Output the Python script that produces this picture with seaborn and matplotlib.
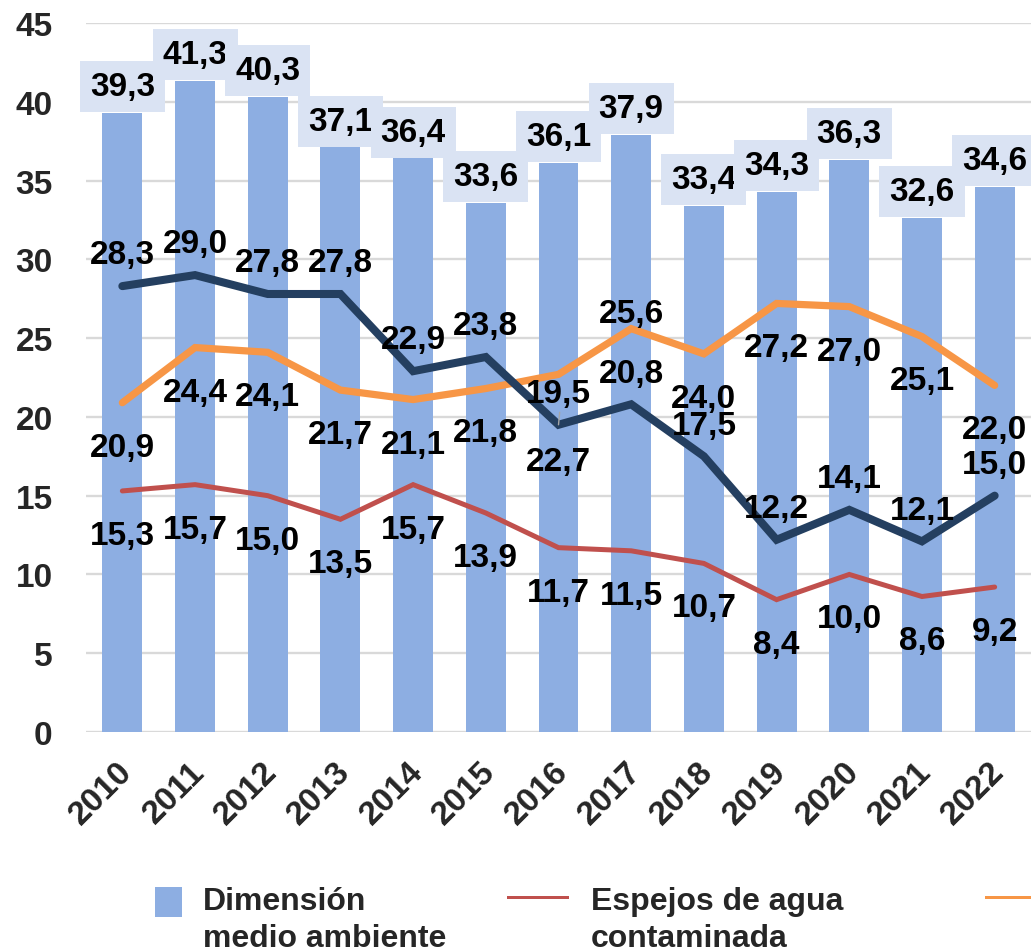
import numpy as np
import pandas as pd
import matplotlib
matplotlib.use("Agg")
import matplotlib.pyplot as plt
from matplotlib.transforms import ScaledTranslation
from matplotlib.patches import Patch, Rectangle
from matplotlib.legend_handler import HandlerPatch
import seaborn as sns

# ---- data ----
years = ["2010", "2011", "2012", "2013", "2014", "2015", "2016",
         "2017", "2018", "2019", "2020", "2021", "2022"]
medio_ambiente = [39.3, 41.3, 40.3, 37.1, 36.4, 33.6, 36.1, 37.9, 33.4, 34.3, 36.3, 32.6, 34.6]
serie_azul = [28.3, 29.0, 27.8, 27.8, 22.9, 23.8, 19.5, 20.8, 17.5, 12.2, 14.1, 12.1, 15.0]
serie_naranja = [20.9, 24.4, 24.1, 21.7, 21.1, 21.8, 22.7, 25.6, 24.0, 27.2, 27.0, 25.1, 22.0]
espejos_agua = [15.3, 15.7, 15.0, 13.5, 15.7, 13.9, 11.7, 11.5, 10.7, 8.4, 10.0, 8.6, 9.2]
y_ticks = [0, 5, 10, 15, 20, 25, 30, 35, 40, 45]
legend_labels = ["Dimensión\nmedio ambiente", "Espejos de agua\ncontaminada", " \n "]

# ---- style ----
BAR = "#8DAEE2"
BOXC = "#DAE3F3"
NAVY = "#243F60"
ORANGE = "#F79646"
RED = "#C0504D"
GRID = "#D9D9D9"
FS = 24
LFS = 23

sns.set_theme(style="white")
plt.rcParams["font.family"] = ["Liberation Sans", "DejaVu Sans"]
plt.rcParams["font.weight"] = "bold"

fig = plt.figure(figsize=(10.31, 9.53), dpi=100)
ax = fig.add_axes([86 / 1031, 1 - 733 / 953, 945 / 1031, 709 / 953])

df = pd.DataFrame({"year": years, "value": medio_ambiente})
sns.barplot(data=df, x="year", y="value", ax=ax, color=BAR, saturation=1,
            width=0.55, linewidth=0, zorder=2)

xs = np.arange(len(years))
for vals, col, lw in [(espejos_agua, RED, 3.6), (serie_naranja, ORANGE, 5.2), (serie_azul, NAVY, 5.8)]:
    sns.lineplot(x=xs, y=vals, ax=ax, color=col, linewidth=lw, sort=False,
                 solid_capstyle="round", solid_joinstyle="miter", zorder=3)

ax.set_xlim(-0.5, len(years) - 0.5)
ax.set_ylim(0, 45)
ax.set_yticks(y_ticks)
ax.set_xlabel("")
ax.set_ylabel("")
for s in ax.spines.values():
    s.set_visible(False)
ax.grid(axis="y", color=GRID, linewidth=1.7, zorder=0)
ax.grid(axis="x", visible=False)
ax.set_axisbelow(True)
ax.tick_params(axis="y", length=0, pad=24, labelsize=FS)
ax.tick_params(axis="x", length=0, pad=17, labelsize=FS)
for lab in ax.get_yticklabels():
    lab.set_fontweight("bold")
for lab in ax.get_xticklabels():
    lab.set_fontweight("bold")
    lab.set_rotation(45)
    lab.set_ha("right")
    lab.set_va("top")
    lab.set_rotation_mode("anchor")
    lab.set_transform(lab.get_transform() + ScaledTranslation(-6 / 100, 0, fig.dpi_scale_trans))

def fmt(v):
    return f"{v:.1f}".replace(".", ",")

# bar labels with boxes
for i, v in enumerate(medio_ambiente):
    ax.annotate(fmt(v), xy=(i, v), xytext=(0, 19), textcoords="offset points",
                ha="center", va="center", fontsize=FS, fontweight="bold", color="black",
                bbox=dict(boxstyle="square,pad=0.3", fc=BOXC, ec="none"), zorder=5)

# navy labels above
for i, v in enumerate(serie_azul):
    kw = {}
    if i == 6:
        kw = dict(arrowprops=dict(arrowstyle="-", color="#A6A6A6", lw=1.0,
                                  relpos=(0.55, 0.6), shrinkA=0, shrinkB=0))
    ax.annotate(fmt(v), xy=(i, v), xytext=(0, 22.5), textcoords="offset points",
                ha="center", va="center", fontsize=FS, fontweight="bold", color="black",
                zorder=6, **kw)

# orange labels (mostly below)
orange_off = [-32, -32, -32, -32, -32, -32, -62.5, 11, -32, -32, -32, -32, -32]
for i, v in enumerate(serie_naranja):
    ax.annotate(fmt(v), xy=(i, v), xytext=(0, orange_off[i]), textcoords="offset points",
                ha="center", va="center", fontsize=FS, fontweight="bold", color="black", zorder=6)

# red labels below
for i, v in enumerate(espejos_agua):
    ax.annotate(fmt(v), xy=(i, v), xytext=(0, -32), textcoords="offset points",
                ha="center", va="center", fontsize=FS, fontweight="bold", color="black", zorder=6)

# legend handles aligned with the first line of each two-line label
def make_handler(shift_pt, thick_pt=None):
    def patch_func(legend, orig_handle, xdescent, ydescent, width, height, fontsize):
        if thick_pt is None:
            return Rectangle((-xdescent, -ydescent + shift_pt), width, height)
        yc = -ydescent + height / 2 + shift_pt
        return Rectangle((-xdescent, yc - thick_pt / 2), width, thick_pt)
    return HandlerPatch(patch_func=patch_func)

h1 = Patch(facecolor=BAR, edgecolor="none")
h2 = Patch(facecolor=RED, edgecolor="none")
h3 = Patch(facecolor=ORANGE, edgecolor="none")
top = 1 - 887 / 953
specs = [
    (h1, legend_labels[0], 155, 0.86, 1.07, 0.65, make_handler(13)),
    (h2, legend_labels[1], 507, 1.93, 1.07, 0.69, make_handler(16, 2.2)),
    (h3, legend_labels[2], 985, 1.93, 1.07, 0.69, make_handler(16, 2.2)),
]
for h, lbl, x0, hl, hh, tp, handler in specs:
    leg = fig.legend([h], [lbl], loc="upper left", bbox_to_anchor=(x0 / 1031, top),
                     handlelength=hl, handleheight=hh, handletextpad=tp,
                     frameon=False, borderpad=0, borderaxespad=0,
                     prop={"weight": "bold", "size": LFS},
                     handler_map={Patch: handler})
    for t in leg.get_texts():
        t.set_linespacing(1.3)

fig.savefig("out.png", dpi=100)
